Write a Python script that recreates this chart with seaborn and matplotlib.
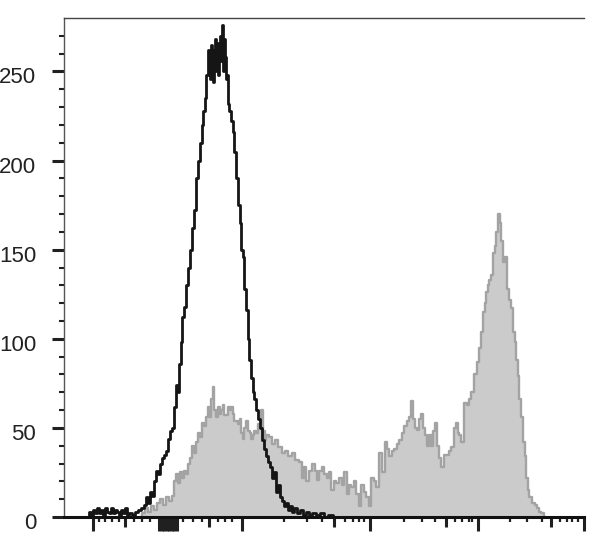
import matplotlib
matplotlib.use("Agg")
import matplotlib.pyplot as plt
import matplotlib.transforms as mtransforms
import pandas as pd
import seaborn as sns

# display channel (0-1039) and event counts
ctrl_channel = [48, 52, 56, 60, 64, 68, 72, 76, 80, 84, 88, 92, 96, 100, 104, 108, 112, 116, 120, 124,
                128, 132, 138, 144, 150, 156, 162, 166, 170, 174, 178, 182, 186, 190, 194, 198, 202, 206,
                210, 214, 218, 222, 226, 228, 232, 234, 238, 242, 246, 250, 254, 258, 262, 266, 270, 274,
                276, 280, 282, 286, 288, 290, 292, 294, 296, 298, 300, 302, 304, 306, 308, 310, 312, 314,
                316, 318, 320, 322, 324, 326, 328, 332, 336, 338, 342, 346, 350, 352, 356, 358, 362, 366,
                368, 372, 376, 378, 382, 386, 390, 394, 398, 402, 406, 410, 414, 418, 422, 426, 430, 434,
                438, 442, 446, 450, 454, 458, 462, 468, 474, 480, 486, 492, 498, 508, 516, 524, 532, 542,
                1039]
ctrl_count = [0, 3, 1, 4, 2, 5, 2, 4, 1, 5, 3, 2, 5, 2, 4, 3, 1, 4, 2, 5,
              1, 2, 1, 3, 4, 5, 7, 11, 8, 14, 12, 20, 26, 24, 30, 33, 35, 37,
              44, 48, 50, 62, 74, 70, 86, 98, 112, 118, 130, 140, 150, 162, 172, 190, 200, 210,
              220, 228, 235, 248, 262, 250, 246, 265, 258, 244, 262, 268, 250, 266, 248, 262, 270, 256,
              276, 250, 268, 258, 246, 248, 232, 228, 222, 216, 205, 190, 175, 165, 150, 146, 128, 116,
              100, 88, 78, 70, 66, 60, 55, 50, 43, 38, 34, 31, 28, 22, 25, 14, 18, 11,
              9, 6, 8, 4, 6, 3, 5, 2, 4, 1, 3, 1, 2, 1, 2, 0, 1, 0,
              0]

stain_channel = [152, 158, 164, 170, 176, 182, 188, 194, 200, 206, 212, 218, 222, 226, 230, 234, 238, 242,
                 246, 250, 254, 258, 262, 266, 270, 274, 278, 282, 286, 288, 292, 296, 298, 302, 306, 310,
                 312, 316, 318, 322, 326, 330, 332, 336, 338, 342, 346, 350, 352, 356, 358, 362, 366, 370,
                 372, 376, 378, 382, 386, 390, 396, 400, 402, 406, 412, 418, 424, 432, 438, 444, 452, 458,
                 466, 472, 478, 482, 486, 492, 498, 504, 508, 512, 518, 522, 528, 532, 536, 542, 546, 552,
                 558, 562, 568, 572, 576, 582, 586, 592, 596, 602, 606, 612, 616, 622, 626, 632, 638, 644,
                 648, 652, 658, 662, 668, 672, 678, 682, 688, 692, 696, 700, 704, 708, 712, 716, 720, 724,
                 728, 732, 736, 740, 744, 748, 752, 756, 762, 768, 772, 776, 782, 786, 788, 792, 796, 802,
                 808, 812, 816, 822, 828, 832, 836, 840, 842, 846, 848, 852, 856, 860, 862, 866, 870, 872,
                 876, 880, 884, 888, 892, 896, 900, 902, 906, 908, 912, 916, 920, 922, 926, 928, 932, 938,
                 944, 948, 952, 956, 962]
stain_count = [0, 2, 5, 3, 6, 4, 8, 10, 7, 11, 9, 12, 20, 24, 19, 25, 22, 26,
               24, 30, 33, 40, 36, 42, 47, 45, 53, 51, 56, 62, 56, 66, 73, 60, 56, 62,
               58, 60, 63, 57, 57, 62, 60, 62, 58, 54, 54, 52, 55, 47, 44, 50, 54, 48,
               47, 44, 46, 48, 47, 52, 60, 48, 43, 46, 45, 41, 43, 39, 36, 37, 34, 36,
               32, 31, 22, 28, 20, 26, 30, 26, 21, 26, 28, 24, 22, 25, 15, 20, 19, 22,
               18, 25, 13, 18, 17, 20, 13, 6, 18, 14, 11, 6, 22, 20, 17, 36, 25, 42,
               38, 34, 37, 38, 41, 43, 47, 51, 54, 56, 65, 55, 50, 49, 55, 58, 50, 46,
               40, 46, 40, 48, 53, 40, 33, 28, 35, 35, 37, 39, 50, 53, 47, 46, 42, 64,
               63, 66, 70, 80, 87, 95, 104, 115, 120, 126, 130, 133, 136, 148, 152, 160, 170, 165,
               155, 143, 146, 128, 122, 117, 104, 98, 88, 79, 66, 56, 42, 34, 22, 15, 11, 8,
               7, 5, 3, 2, 0]

# axis ticks on the biexponential display scale (no labels on x)
x_major = [58, 190, 195, 200, 205, 210, 215, 220, 225, 356, 611, 828, 1039]
x_mid = [121, 289, 539, 763, 974]
x_minor = [69, 81, 95, 109, 139, 156, 172, 238, 258, 275, 307, 321, 335, 440, 485, 516, 562,
           578, 590, 600, 679, 716, 742, 781, 796, 809, 816, 891, 926, 956, 992, 1006, 1016, 1027]
y_major = [0, 50, 100, 150, 200, 250]
y_minor = list(range(0, 280, 10))

sns.set_style("ticks")
plt.rcParams['font.family'] = ['Liberation Sans', 'DejaVu Sans']

fig = plt.figure(figsize=(6.08, 5.45), dpi=100)
ax = fig.add_axes([64 / 608, 1 - 517 / 545, 519.5 / 608, 499 / 545])

stain = pd.DataFrame({'channel': stain_channel, 'count': stain_count})
ctrl = pd.DataFrame({'channel': ctrl_channel, 'count': ctrl_count})

ax.fill_between(stain['channel'], stain['count'], step='mid', color='#cbcbcb', lw=0)
sns.lineplot(data=stain, x='channel', y='count', drawstyle='steps-mid', color='#a3a3a3',
             lw=1.7, estimator=None, sort=False, ax=ax)
sns.lineplot(data=ctrl, x='channel', y='count', drawstyle='steps-mid', color='#151515',
             lw=2.0, estimator=None, sort=False, ax=ax)

ax.set_xlim(0, 1039)
ax.set_ylim(0, 280)
ax.set_xlabel('')
ax.set_ylabel('')

ax.set_xticks(x_major)
ax.set_xticks(x_minor, minor=True)
ax.set_xticklabels([])
ax.tick_params(axis='x', which='major', length=10, width=2.2, color='#202020')
ax.tick_params(axis='x', which='minor', length=3.8, width=1.6, color='#202020')

sec = ax.secondary_xaxis('bottom')
sec.set_xticks(x_mid)
sec.set_xticklabels([])
sec.tick_params(length=7, width=2.2, color='#202020')
sec.spines['bottom'].set_visible(False)

ax.set_yticks(y_major)
ax.set_yticks(y_minor, minor=True)
ax.tick_params(axis='y', which='major', length=8.5, width=2.2, color='#202020',
               labelsize=16, pad=11.5, labelcolor='#222222')
ax.tick_params(axis='y', which='minor', length=3.6, width=1.5, color='#202020')

shift = mtransforms.ScaledTranslation(0, -0.04, fig.dpi_scale_trans)
for lab in ax.get_yticklabels():
    lab.set_transform(lab.get_transform() + shift)

ax.spines['right'].set_visible(False)
ax.spines['top'].set_color('#444444')
ax.spines['top'].set_linewidth(1.0)
ax.spines['left'].set_color('#555555')
ax.spines['left'].set_linewidth(1.0)
ax.spines['bottom'].set_color('#111111')
ax.spines['bottom'].set_linewidth(2.2)

fig.savefig('out.png', dpi=100)
